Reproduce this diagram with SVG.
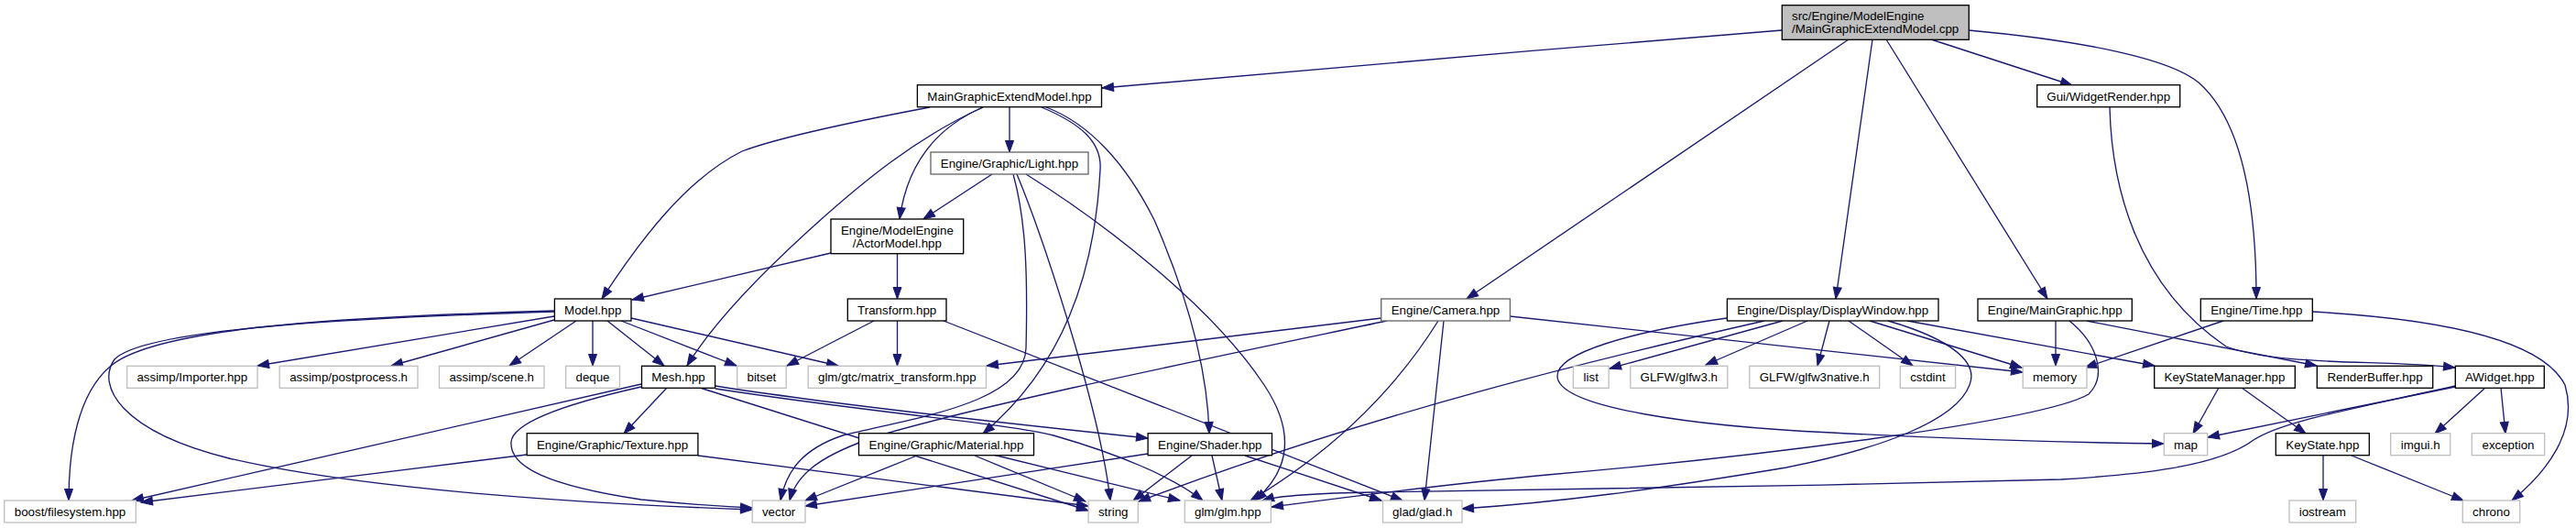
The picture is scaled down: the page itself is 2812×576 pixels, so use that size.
<svg xmlns="http://www.w3.org/2000/svg" width="2812" height="576" viewBox="0 0 2812 576">
<style>
.n rect{fill:#ffffff;stroke:#000000;stroke-width:1.33}
.n.g rect{stroke:#bfbfbf}
.n.d rect{stroke:#666666}
.n.r rect{fill:#bfbfbf}
.n text{font-family:"Liberation Sans",Arial,Helvetica,sans-serif;font-size:13.33px;fill:#000000;text-anchor:middle}
.n text.l{text-anchor:start}
#edges path{fill:none;stroke:#191970;stroke-width:1.33;marker-end:url(#arr)}
</style>
<defs>
<marker id="arr" markerWidth="13" markerHeight="10" refX="12.5" refY="5" orient="auto" markerUnits="userSpaceOnUse" overflow="visible">
<path d="M0,0.5 L12.5,5 L0,9.5 z" fill="#191970" stroke="#191970" stroke-width="1"/>
</marker>
</defs>
<rect width="2812" height="576" fill="#ffffff"/>
<g id="edges">
<path d="M1945,33 C1700,52 1420,78 1203,96"/>
<path d="M2108,43 L2262,93"/>
<path d="M2149,33 C2280,45 2370,65 2400,90 C2440,125 2463,200 2463,326"/>
<path d="M2018,43 L1601,326"/>
<path d="M2044,43 L2004,326"/>
<path d="M2059,43 L2235,326"/>
<path d="M1102,117 L1102,166"/>
<path d="M1073,117 C1020,140 990,180 982,239"/>
<path d="M1015,117 C930,133 850,150 810,165 C750,195 700,260 657,326"/>
<path d="M1073,117 C1000,150 940,200 890,245 C840,290 780,350 750,399"/>
<path d="M1142,117 C1190,135 1230,180 1260,240 C1295,320 1318,400 1320,473"/>
<path d="M1137,117 C1180,135 1203,155 1201,185 C1195,300 1160,400 1073,473"/>
<path d="M907,276 L690,327"/>
<path d="M979.5,277 L979.5,326"/>
<path d="M1083,190 L1008,239"/>
<path d="M1110,190 C1135,250 1200,440 1212,546"/>
<path d="M1120,190 C1200,240 1320,330 1380,420 C1420,480 1400,520 1370,546"/>
<path d="M1106,190 C1120,240 1122,300 1120,380 C1118,440 1000,455 920,475 C875,490 858,515 852,546"/>
<path d="M1514,350 C1300,395 1080,440 960,475 C900,495 870,515 862,546"/>
<path d="M1508,347 L1077,399"/>
<path d="M1570,350 C1520,430 1450,495 1365,546"/>
<path d="M1576,350 L1555,546"/>
<path d="M1648,345 L2208,406"/>
<path d="M605,339 C400,345 170,355 120,400 C85,430 75,490 75,546"/>
<path d="M605,340 C420,346 160,356 125,392 C105,420 130,470 250,500 C400,535 650,550 821,556"/>
<path d="M605,345 L281,399"/>
<path d="M605,349 L427,399"/>
<path d="M629,350 L556,399"/>
<path d="M647,350 L647,399"/>
<path d="M663,350 L725,399"/>
<path d="M678,350 L804,399"/>
<path d="M689,347 L915,399"/>
<path d="M954,350 L859,399"/>
<path d="M979.5,350 L979.5,399"/>
<path d="M1030,350 L1531,546"/>
<path d="M1885,347 C1780,362 1700,385 1700,410 C1700,445 1850,465 2000,472 C2150,480 2280,483 2362,484"/>
<path d="M1926,350 C1750,390 1500,450 1243,547"/>
<path d="M1946,350 L1757,402"/>
<path d="M1973,350 L1862,398"/>
<path d="M1997,350 L1984,399"/>
<path d="M2018,350 L2088,399"/>
<path d="M2041,350 L2207,401"/>
<path d="M2061,350 C2130,370 2160,395 2150,420 C2135,460 2050,490 1950,510 C1800,535 1700,548 1596,555"/>
<path d="M2082,350 L2352,399"/>
<path d="M2244,350 L2244,399"/>
<path d="M2278,350 L2529,399"/>
<path d="M2259,350 C2290,375 2300,410 2280,430 C2230,460 1900,500 1689,518 C1560,530 1450,545 1388,553"/>
<path d="M2427,350 L2276,401"/>
<path d="M2524,340 C2700,350 2780,380 2800,420 C2815,470 2780,515 2742,546"/>
<path d="M2303,117 C2305,200 2330,310 2430,378 C2490,400 2600,392 2680,401"/>
<path d="M2422,423 L2394,473"/>
<path d="M2447,423 L2517,473"/>
<path d="M2536,497 L2536,546"/>
<path d="M2567,497 L2689,546"/>
<path d="M2680,422 L2410,477"/>
<path d="M2713,423 L2658,473"/>
<path d="M2730,423 L2735,473"/>
<path d="M2680,421 C2560,448 2490,460 2460,480 C2420,510 2330,518 2250,523 C2000,530 1700,534 1500,537 C1430,538 1395,541 1378,546"/>
<path d="M728,423 L681,473"/>
<path d="M700,419 L144,546"/>
<path d="M700,422 C620,440 560,460 558,482 C556,510 600,530 700,545 C760,551 800,553 821,554"/>
<path d="M781,421 C900,440 1100,462 1253,478"/>
<path d="M781,424 C950,450 1100,462 1150,475 C1220,495 1280,520 1313,546"/>
<path d="M764,423 L1188,557"/>
<path d="M575,496 L154,548"/>
<path d="M762,497 L1188,552"/>
<path d="M1001,497 L879,546"/>
<path d="M1064,497 L1185,547"/>
<path d="M1084,496 L1288,546"/>
<path d="M1301,497 L1237,546"/>
<path d="M1323,497 L1334,546"/>
<path d="M1359,497 L1508,546"/>
<path d="M1253,495 L879,552"/>
</g>
<g id="root" class="n r"><rect x="1945.3" y="5.7" width="204" height="37.6"/><text class="l" x="1956" y="22">src/Engine/ModelEngine</text><text class="l" x="1956" y="36">/MainGraphicExtendModel.cpp</text></g>
<g id="mgem" class="n"><rect x="1001.4" y="92.7" width="201.1" height="24"/><text x="1102" y="109.5">MainGraphicExtendModel.hpp</text></g>
<g id="widgetrender" class="n"><rect x="2223.7" y="92.7" width="156" height="24"/><text x="2301.7" y="109.5">Gui/WidgetRender.hpp</text></g>
<g id="light" class="n d"><rect x="1016" y="166" width="172" height="24"/><text x="1102" y="183">Engine/Graphic/Light.hpp</text></g>
<g id="actormodel" class="n"><rect x="907" y="239" width="144.7" height="37.7"/><text x="979.4" y="255.5">Engine/ModelEngine</text><text x="979.4" y="269.5">/ActorModel.hpp</text></g>
<g id="model" class="n"><rect x="605.4" y="326" width="83.6" height="24"/><text x="647.2" y="343">Model.hpp</text></g>
<g id="transform" class="n"><rect x="925.3" y="326" width="107.7" height="24"/><text x="979.2" y="343">Transform.hpp</text></g>
<g id="camera" class="n d"><rect x="1507.7" y="326" width="140.7" height="24"/><text x="1578" y="343">Engine/Camera.hpp</text></g>
<g id="displaywindow" class="n"><rect x="1885.4" y="326" width="230.6" height="24"/><text x="2000.7" y="343">Engine/Display/DisplayWindow.hpp</text></g>
<g id="maingraphic" class="n"><rect x="2159" y="326" width="168.3" height="24"/><text x="2243.2" y="343">Engine/MainGraphic.hpp</text></g>
<g id="time" class="n"><rect x="2402.3" y="326" width="122" height="24"/><text x="2463.3" y="343">Engine/Time.hpp</text></g>
<g id="importer" class="n g"><rect x="138.6" y="399.3" width="142.4" height="24"/><text x="209.8" y="416.3">assimp/Importer.hpp</text></g>
<g id="postprocess" class="n g"><rect x="305.2" y="399.3" width="150.8" height="24"/><text x="380.6" y="416.3">assimp/postprocess.h</text></g>
<g id="scene" class="n g"><rect x="479.4" y="399.3" width="114.6" height="24"/><text x="536.7" y="416.3">assimp/scene.h</text></g>
<g id="deque" class="n g"><rect x="617.6" y="399.3" width="58.9" height="24"/><text x="647" y="416.3">deque</text></g>
<g id="mesh" class="n"><rect x="700.5" y="399.3" width="80.1" height="24"/><text x="740.5" y="416.3">Mesh.hpp</text></g>
<g id="bitset" class="n g"><rect x="804.7" y="399.3" width="53.5" height="24"/><text x="831.4" y="416.3">bitset</text></g>
<g id="matrix" class="n g"><rect x="882.2" y="399.3" width="194.3" height="24"/><text x="979.3" y="416.3">glm/gtc/matrix_transform.hpp</text></g>
<g id="list" class="n g"><rect x="1717.4" y="399.3" width="38.7" height="24"/><text x="1736.7" y="416.3">list</text></g>
<g id="glfw3" class="n g"><rect x="1779.8" y="399.3" width="106" height="24"/><text x="1832.8" y="416.3">GLFW/glfw3.h</text></g>
<g id="glfw3native" class="n g"><rect x="1909.8" y="399.3" width="141.9" height="24"/><text x="1980.7" y="416.3">GLFW/glfw3native.h</text></g>
<g id="cstdint" class="n g"><rect x="2074.3" y="399.3" width="60.3" height="24"/><text x="2104.4" y="416.3">cstdint</text></g>
<g id="memory" class="n g"><rect x="2208.2" y="399.3" width="69.8" height="24"/><text x="2243.1" y="416.3">memory</text></g>
<g id="keystatemanager" class="n"><rect x="2351.7" y="399.3" width="153.6" height="24"/><text x="2428.5" y="416.3">KeyStateManager.hpp</text></g>
<g id="renderbuffer" class="n"><rect x="2529.3" y="399.3" width="126.4" height="24"/><text x="2592.5" y="416.3">RenderBuffer.hpp</text></g>
<g id="awidget" class="n"><rect x="2680.3" y="399.3" width="97" height="24"/><text x="2728.8" y="416.3">AWidget.hpp</text></g>
<g id="texture" class="n"><rect x="575.2" y="472.7" width="186.7" height="24"/><text x="668.5" y="489.7">Engine/Graphic/Texture.hpp</text></g>
<g id="material" class="n"><rect x="937.5" y="472.7" width="191" height="24"/><text x="1033" y="489.7">Engine/Graphic/Material.hpp</text></g>
<g id="shader" class="n"><rect x="1253.1" y="472.7" width="135.4" height="24"/><text x="1320.8" y="489.7">Engine/Shader.hpp</text></g>
<g id="map" class="n g"><rect x="2362.3" y="472.7" width="47.4" height="24"/><text x="2386" y="489.7">map</text></g>
<g id="keystate" class="n"><rect x="2484.3" y="472.7" width="102" height="24"/><text x="2535.3" y="489.7">KeyState.hpp</text></g>
<g id="imgui" class="n g"><rect x="2609.7" y="472.7" width="65" height="24"/><text x="2642.2" y="489.7">imgui.h</text></g>
<g id="exception" class="n g"><rect x="2698.3" y="472.7" width="79.4" height="24"/><text x="2738" y="489.7">exception</text></g>
<g id="boost" class="n g"><rect x="4.7" y="546" width="143.6" height="24"/><text x="76.5" y="563">boost/filesystem.hpp</text></g>
<g id="vector" class="n g"><rect x="821.2" y="546" width="57.8" height="24"/><text x="850.1" y="563">vector</text></g>
<g id="string" class="n g"><rect x="1188.1" y="546" width="54.2" height="24"/><text x="1215.2" y="563">string</text></g>
<g id="glm" class="n g"><rect x="1293.3" y="546" width="94.1" height="24"/><text x="1340.3" y="563">glm/glm.hpp</text></g>
<g id="glad" class="n g"><rect x="1509.5" y="546" width="86.5" height="24"/><text x="1552.7" y="563">glad/glad.h</text></g>
<g id="iostream" class="n g"><rect x="2499" y="546" width="72.7" height="24"/><text x="2535.3" y="563">iostream</text></g>
<g id="chrono" class="n g"><rect x="2688.3" y="546" width="62.4" height="24"/><text x="2719.5" y="563">chrono</text></g>
</svg>
